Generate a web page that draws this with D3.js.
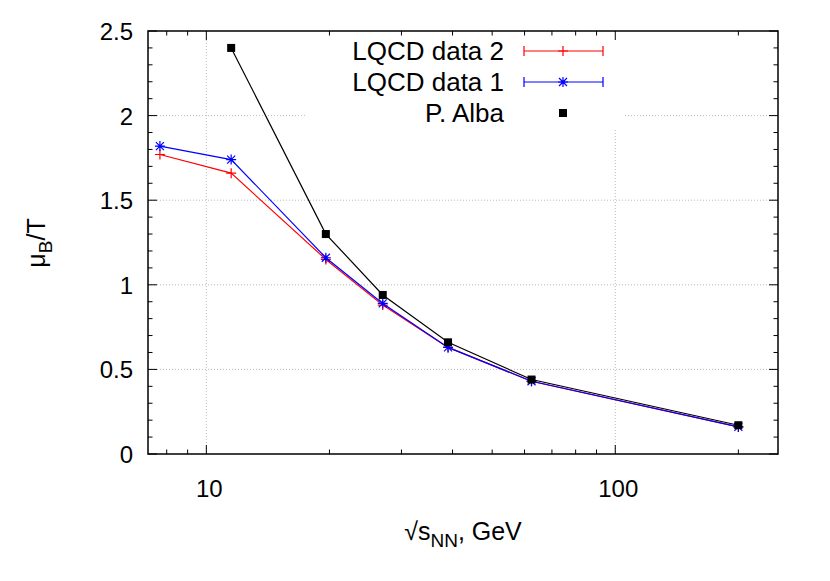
<!DOCTYPE html>
<html><head><meta charset="utf-8">
<script src="https://cdn.jsdelivr.net/npm/d3@7"></script>
<style>body{margin:0;background:#fff}</style>
</head><body>
<svg id="c" width="830" height="581"></svg>
<script>
const energies = [7.7, 11.5, 19.6, 27, 39, 62.4, 200];
const lqcd2 = [1.77, 1.66, 1.15, 0.88, 0.63, 0.43, 0.16];
const lqcd1 = [1.82, 1.74, 1.16, 0.89, 0.63, 0.43, 0.16];
const albaE = [11.5, 19.6, 27, 39, 62.4, 200];
const alba = [2.40, 1.30, 0.94, 0.66, 0.44, 0.17];
const yTicks = [0, 0.5, 1, 1.5, 2, 2.5];
const xTicks = [10, 100];

const svg = d3.select("#c");
const L = 148, R = 778, T = 31, B = 454;
const x = d3.scaleLog().domain([7.2, 250]).range([L, R]);
const y = d3.scaleLinear().domain([0, 2.5]).range([B, T]);
const font = "Liberation Sans, Arial, sans-serif";

// grid
const grid = svg.append("g").attr("stroke", "#aaa").attr("stroke-width", 0.8).attr("stroke-dasharray", "1,2");
yTicks.filter(v => v > 0 && v < 2.5).forEach(v => grid.append("line").attr("x1", L).attr("x2", R).attr("y1", y(v)).attr("y2", y(v)));
xTicks.forEach(v => grid.append("line").attr("x1", x(v)).attr("x2", x(v)).attr("y1", T).attr("y2", B));

// legend background hides grid
svg.append("rect").attr("x", 307).attr("y", T + 1).attr("width", 316).attr("height", 97).attr("fill", "#fff");

// ticks
const tk = svg.append("g").attr("stroke", "#000");
const minorY = d3.range(0, 2.51, 0.1);
minorY.forEach(v => {
  const major = yTicks.some(t => Math.abs(t - v) < 1e-6);
  const len = major ? 9 : 4.5;
  tk.append("line").attr("x1", L).attr("x2", L + len).attr("y1", y(v)).attr("y2", y(v));
  tk.append("line").attr("x1", R).attr("x2", R - len).attr("y1", y(v)).attr("y2", y(v));
});
const minorX = [];
[1, 10, 100].forEach(d => d3.range(1, 10).forEach(k => { const v = k * d; if (v >= 7.2 && v <= 250) minorX.push(v); }));
minorX.forEach(v => {
  const len = xTicks.includes(v) ? 9 : 4.5;
  tk.append("line").attr("x1", x(v)).attr("x2", x(v)).attr("y1", B).attr("y2", B - len);
  tk.append("line").attr("x1", x(v)).attr("x2", x(v)).attr("y1", T).attr("y2", T + len);
});
svg.append("rect").attr("x", L).attr("y", T).attr("width", R - L).attr("height", B - T)
  .attr("fill", "none").attr("stroke", "#000").attr("stroke-width", 1.5);

// tick labels
yTicks.forEach(v => svg.append("text").attr("x", L - 15).attr("y", y(v) + 9).attr("text-anchor", "end")
  .attr("font-family", font).attr("font-size", 24).text(v));
xTicks.forEach(v => svg.append("text").attr("x", x(v) + 3).attr("y", B + 43).attr("text-anchor", "middle")
  .attr("font-family", font).attr("font-size", 24).text(v));

// axis titles
const xt = svg.append("text").attr("x", 463).attr("y", 540).attr("text-anchor", "middle").attr("font-family", font).attr("font-size", 25);
xt.append("tspan").text("√s");
xt.append("tspan").attr("font-size", 19).attr("dy", 7).text("NN");
xt.append("tspan").attr("dy", -7).text(", GeV");
const yt = svg.append("text").attr("transform", "translate(45,243) rotate(-90)").attr("text-anchor", "middle").attr("font-family", font).attr("font-size", 25);
yt.append("tspan").text("μ");
yt.append("tspan").attr("font-size", 19).attr("dy", 7).text("B");
yt.append("tspan").attr("dy", -7).text("/T");

const line = d3.line().x(d => x(d[0])).y(d => y(d[1]));
function plus(g, px, py, c) {
  g.append("path").attr("d", `M${px-5},${py}H${px+5}M${px},${py-5}V${py+5}`).attr("stroke", c).attr("stroke-width", 1.2);
}
function star(g, px, py, c) {
  g.append("path").attr("d", `M${px-5},${py}H${px+5}M${px},${py-5}V${py+5}M${px-4},${py-4}L${px+4},${py+4}M${px-4},${py+4}L${px+4},${py-4}`)
    .attr("stroke", c).attr("stroke-width", 1.2);
}
function square(g, px, py, c) {
  g.append("rect").attr("x", px - 4).attr("y", py - 4).attr("width", 8).attr("height", 8).attr("fill", c);
}

const d2 = energies.map((e, i) => [e, lqcd2[i]]);
const d1 = energies.map((e, i) => [e, lqcd1[i]]);
const da = albaE.map((e, i) => [e, alba[i]]);
const g = svg.append("g");
g.append("path").attr("d", line(d2)).attr("fill", "none").attr("stroke", "#f00").attr("stroke-width", 1.2);
d2.forEach(d => plus(g, x(d[0]), y(d[1]), "#f00"));
g.append("path").attr("d", line(d1)).attr("fill", "none").attr("stroke", "#00f").attr("stroke-width", 1.2);
d1.forEach(d => star(g, x(d[0]), y(d[1]), "#00f"));
g.append("path").attr("d", line(da)).attr("fill", "none").attr("stroke", "#000").attr("stroke-width", 1.2);
da.forEach(d => square(g, x(d[0]), y(d[1]), "#000"));

// legend
const leg = [["LQCD data 2", "#f00", plus], ["LQCD data 1", "#00f", star], ["P. Alba", "#000", square]];
leg.forEach((l, i) => {
  const ly = 51 + i * 31;
  svg.append("text").attr("x", 504).attr("y", ly + 9).attr("text-anchor", "end").attr("font-family", font).attr("font-size", 26).text(l[0]);
  if (i < 2) {
    svg.append("path").attr("d", `M524,${ly}H603M524,${ly-5}V${ly+5}M603,${ly-5}V${ly+5}`).attr("stroke", l[1]).attr("stroke-width", 1.2);
  }
  l[2](svg, 563, ly, l[1]);
});
</script>
</body></html>
